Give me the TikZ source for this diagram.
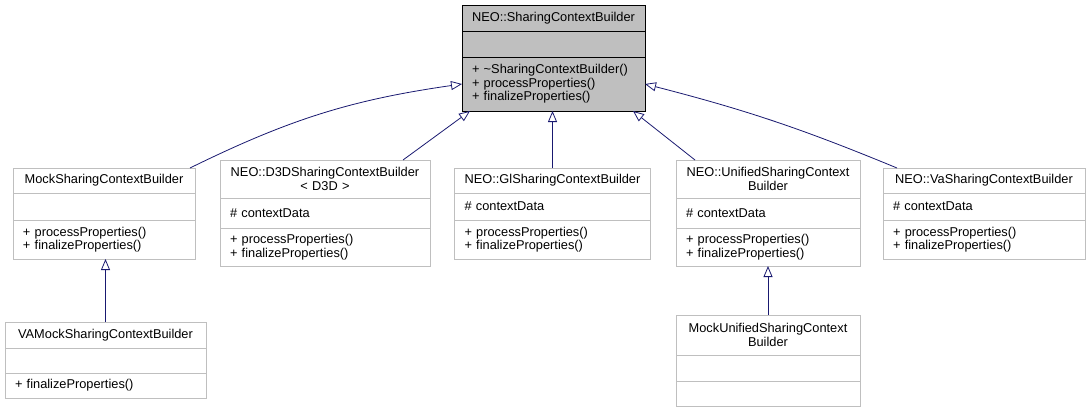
\documentclass[tikz,border=0pt]{standalone}
\usepackage{fontspec}
\setmainfont{Liberation Sans}
\usepackage{tikz}
\usetikzlibrary{arrows.meta,positioning}
\definecolor{boxgray}{RGB}{191,191,191}
\definecolor{basegray}{RGB}{191,191,191}
\definecolor{edgenavy}{RGB}{25,25,112}

\begin{document}
\begin{tikzpicture}[
      x=1pt, y=-1pt,
      clsbox/.style={draw=boxgray, fill=white, line width=0.8pt, inner xsep=10pt, inner ysep=1pt,
                     outer sep=0pt, font=\fontsize{12.8}{13.5}\selectfont},
      clstitle/.style={clsbox, align=center},
      clspart/.style={clsbox, align=left},
      basebox/.style={draw=black, fill=basegray},
      inherit/.style={draw=edgenavy, line width=0.8pt,
                      -{Triangle[open, length=11pt, width=9pt, fill=white]}}
    ]
      \useasboundingbox (0,0) rectangle (1089,412);

      % --- base class (top) ---
      \node[clstitle, basebox, anchor=north, text width=163pt, minimum height=26pt] (topt) at (553.5,5) {NEO::SharingContextBuilder};
      \node[clspart, basebox, below=0pt of topt, text width=163pt, minimum height=26pt] (topa) {};
      \node[clspart, basebox, below=0pt of topa, text width=163pt, minimum height=54pt] (topm)
        {+ \textasciitilde SharingContextBuilder()\\+ processProperties()\\+ finalizeProperties()};

      % --- derived classes (middle row) ---
      \node[clstitle, anchor=north, text width=162pt, minimum height=25pt] (mockt) at (104,168) {MockSharingContextBuilder};
      \node[clspart, below=0pt of mockt, text width=162pt, minimum height=27pt] (mocka) {};
      \node[clspart, below=0pt of mocka, text width=162pt, minimum height=39pt] (mockm)
        {+ processProperties()\\+ finalizeProperties()};

      \node[clstitle, anchor=north, text width=190pt, minimum height=38pt] (d3dt) at (325,160) {NEO::D3DSharingContextBuilder\\< D3D >};
      \node[clspart, below=0pt of d3dt, text width=190pt, minimum height=30pt] (d3da) {\# contextData};
      \node[clspart, below=0pt of d3da, text width=190pt, minimum height=38pt] (d3dm)
        {+ processProperties()\\+ finalizeProperties()};

      \node[clstitle, anchor=north, text width=176pt, minimum height=25pt] (glt) at (552.5,168) {NEO::GlSharingContextBuilder};
      \node[clspart, below=0pt of glt, text width=176pt, minimum height=27pt] (gla) {\# contextData};
      \node[clspart, below=0pt of gla, text width=176pt, minimum height=39pt] (glm)
        {+ processProperties()\\+ finalizeProperties()};

      \node[clstitle, anchor=north, text width=164pt, minimum height=38pt] (unit) at (768,160) {NEO::UnifiedSharingContext\\Builder};
      \node[clspart, below=0pt of unit, text width=164pt, minimum height=30pt] (unia) {\# contextData};
      \node[clspart, below=0pt of unia, text width=164pt, minimum height=38pt] (unim)
        {+ processProperties()\\+ finalizeProperties()};

      \node[clstitle, anchor=north, text width=182pt, minimum height=25pt] (vat) at (984,168) {NEO::VaSharingContextBuilder};
      \node[clspart, below=0pt of vat, text width=182pt, minimum height=27pt] (vaa) {\# contextData};
      \node[clspart, below=0pt of vaa, text width=182pt, minimum height=39pt] (vam)
        {+ processProperties()\\+ finalizeProperties()};

      % --- bottom row ---
      \node[clstitle, anchor=north, text width=181pt, minimum height=26pt] (vamt) at (105.5,322) {VAMockSharingContextBuilder};
      \node[clspart, below=0pt of vamt, text width=181pt, minimum height=25pt] (vama) {};
      \node[clspart, below=0pt of vama, text width=181pt, minimum height=25pt] (vamm) {+ finalizeProperties()};

      \node[clstitle, anchor=north, text width=164pt, minimum height=40pt] (munit) at (768,315) {MockUnifiedSharingContext\\Builder};
      \node[clspart, below=0pt of munit, text width=164pt, minimum height=26pt] (munia) {};
      \node[clspart, below=0pt of munia, text width=164pt, minimum height=25pt] (munim) {};

      % --- inheritance edges ---
      \draw[inherit] ([xshift=-5pt]mockt.north east) to[bend left=9] (topm.west);
      \draw[inherit] ([xshift=-27pt]d3dt.north east) -- ([xshift=8pt]topm.south west);
      \draw[inherit] (glt.north) -- (glt.north |- topm.south);
      \draw[inherit] ([xshift=19pt]unit.north west) -- ([xshift=-12pt]topm.south east);
      \draw[inherit] ([xshift=14pt]vat.north west) to[bend right=4] (topm.east);
      \draw[inherit] (vamt.north) -- (vamt.north |- mockm.south);
      \draw[inherit] (munit.north) -- (unim.south);
    \end{tikzpicture}
\end{document}
